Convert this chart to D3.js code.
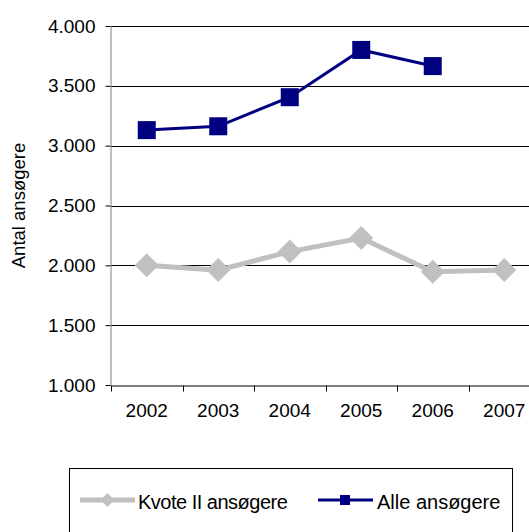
<!DOCTYPE html>
<html>
<head>
<meta charset="utf-8">
<script src="https://cdn.jsdelivr.net/npm/d3@7"></script>
<style>
  body { margin: 0; background: #fff; }
  svg { display: block; font-family: "Liberation Sans", Arial, sans-serif; }
</style>
</head>
<body>
<svg id="chart" width="529" height="532"></svg>
<script>
// chart data
const years = ['2002', '2003', '2004', '2005', '2006', '2007'];
const kvoteValues = [2000, 1960, 2115, 2228, 1946, 1960];
const alleValues = [3130, 3162, 3405, 3800, 3665, null];
const yTicks = [1000, 1500, 2000, 2500, 3000, 3500, 4000];

const width = 529, height = 532;
const margin = { top: 26, left: 111, bottom: 385 };
const plotRight = 540;

const svg = d3.select('#chart');

const x = d3.scaleBand()
  .domain(years)
  .range([margin.left, plotRight]);

const y = d3.scaleLinear()
  .domain([1000, 4000])
  .range([margin.bottom, margin.top]);

const fmt = d => d3.format(',')(d).replace(/,/g, '.');

// gridlines
svg.append('g')
  .selectAll('line')
  .data(yTicks.slice(1))
  .enter().append('line')
  .attr('x1', margin.left)
  .attr('x2', width)
  .attr('y1', d => Math.round(y(d)) + 0.5)
  .attr('y2', d => Math.round(y(d)) + 0.5)
  .attr('stroke', '#000')
  .attr('stroke-width', 1);

// Y axis
const yAxis = svg.append('g')
  .attr('transform', `translate(${margin.left - 0.5},0)`)
  .call(d3.axisLeft(y).tickValues(yTicks).tickFormat(fmt).tickSize(5).tickSizeOuter(0));
yAxis.select('.domain').attr('stroke', '#808080');
yAxis.selectAll('.tick line').attr('stroke', '#000');
yAxis.selectAll('text')
  .attr('font-size', 19)
  .attr('font-family', '"Liberation Sans", Arial, sans-serif')
  .attr('fill', '#000')
  .attr('x', -15);

// X axis
const xAxis = svg.append('g')
  .attr('transform', `translate(0,${Math.round(y(1000)) + 0.5})`)
  .call(d3.axisBottom(x).tickSize(0).tickSizeOuter(0));
xAxis.select('.domain').attr('stroke', '#000');
xAxis.selectAll('text')
  .attr('font-size', 19)
  .attr('font-family', '"Liberation Sans", Arial, sans-serif')
  .attr('fill', '#000')
  .attr('y', 18);
// tick marks at band boundaries
xAxis.append('g')
  .selectAll('line')
  .data(years)
  .enter().append('line')
  .attr('x1', d => Math.round(x(d)) + 0.5)
  .attr('x2', d => Math.round(x(d)) + 0.5)
  .attr('y1', 0)
  .attr('y2', 6)
  .attr('stroke', '#000');

// Y label
svg.append('text')
  .attr('transform', `translate(25,${(margin.top + margin.bottom) / 2}) rotate(-90)`)
  .attr('text-anchor', 'middle')
  .attr('font-size', 18.5)
  .attr('fill', '#000')
  .text('Antal ansøgere');

const cx = d => x(d) + x.bandwidth() / 2;

// Kvote II line
const kvoteData = years.map((yr, i) => ({ yr, v: kvoteValues[i] }));
const alleData = years.map((yr, i) => ({ yr, v: alleValues[i] })).filter(d => d.v != null);

const line = d3.line()
  .x(d => cx(d.yr))
  .y(d => y(d.v));

svg.append('path')
  .datum(kvoteData)
  .attr('d', line)
  .attr('fill', 'none')
  .attr('stroke', '#c0c0c0')
  .attr('stroke-width', 5);

const diamond = (px, py, s) => `M${px},${py - s}L${px + s},${py}L${px},${py + s}L${px - s},${py}Z`;

svg.append('g')
  .selectAll('path')
  .data(kvoteData)
  .enter().append('path')
  .attr('d', d => diamond(cx(d.yr), y(d.v), 12))
  .attr('fill', '#c0c0c0');

// Alle line
svg.append('path')
  .datum(alleData)
  .attr('d', line)
  .attr('fill', 'none')
  .attr('stroke', '#000080')
  .attr('stroke-width', 3);

svg.append('g')
  .selectAll('rect')
  .data(alleData)
  .enter().append('rect')
  .attr('x', d => cx(d.yr) - 9)
  .attr('y', d => y(d.v) - 9)
  .attr('width', 18)
  .attr('height', 18)
  .attr('fill', '#000080');

// legend
const legend = svg.append('g');
legend.append('rect')
  .attr('x', 69.5)
  .attr('y', 468.5)
  .attr('width', 443)
  .attr('height', 80)
  .attr('fill', '#fff')
  .attr('stroke', '#000');

const ly = 500;
legend.append('line')
  .attr('x1', 80).attr('x2', 135).attr('y1', ly).attr('y2', ly)
  .attr('stroke', '#c0c0c0').attr('stroke-width', 5);
legend.append('path')
  .attr('d', diamond(107.5, ly, 7))
  .attr('fill', '#c0c0c0');
legend.append('text')
  .attr('x', 138).attr('y', ly + 9)
  .attr('font-size', 20)
  .attr('letter-spacing', -0.5)
  .text('Kvote II ansøgere');

legend.append('line')
  .attr('x1', 318).attr('x2', 373).attr('y1', ly).attr('y2', ly)
  .attr('stroke', '#000080').attr('stroke-width', 3);
legend.append('rect')
  .attr('x', 340).attr('y', ly - 5).attr('width', 10).attr('height', 10)
  .attr('fill', '#000080');
legend.append('text')
  .attr('x', 377).attr('y', ly + 9)
  .attr('font-size', 20)
  .text('Alle ansøgere');
</script>
</body>
</html>
